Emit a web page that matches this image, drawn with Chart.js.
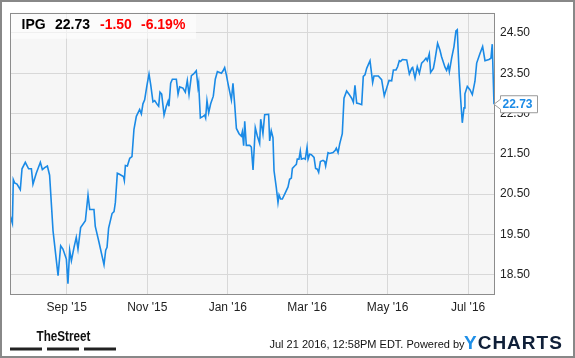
<!DOCTYPE html>
<html>
<head>
<meta charset="utf-8">
<script src="https://cdn.jsdelivr.net/npm/chart.js@4"></script>
<style>
html,body{margin:0;padding:0;background:#fff;}
#wrap{width:575px;height:358px;position:relative;}
</style>
</head>
<body>
<div id="wrap"><canvas id="c" width="575" height="358"></canvas></div>
<script>
// x values: days since Jul 20 2015 (Sep 1 2015 = 43, Jul 21 2016 = 367)
const days = [0,1.8,2.5,3.5,5.3,7.8,9.1,11.6,14.1,16.2,17.4,19.9,23.0,24.5,26.3,28.3,30.0,32.6,36.4,38.4,40.1,42.7,43.9,45.2,46.5,48.5,50.2,51.5,53.5,57.1,59.1,60.4,63.6,64.6,67.2,71.2,72.5,73.5,74.7,77.3,78.8,79.8,81.3,82.6,85.9,86.6,87.4,88.9,
90.7,92.4,93.9,95.7,98.2,99.5,100.7,102.0,103.8,105.3,106.6,108.3,109.6,111.6,112.6,113.6,114.9,116.7,118.4,119.7,120.4,121.7,123.0,126.0,127.3,128.5,131.0,132.8,134.3,135.6,137.4,139.1,141.1,142.4,142.9,144.2,146.2,147.5,148.2,149.2,150.5,152.0,154.0,155.5,157.1,160.1,161.4,162.6,163.9,165.1,167.7,168.9,170.2,171.5,173.5,175.2,176.0,177.0,177.8,179.0,181.6,182.8,
184.1,185.8,187.3,189.1,189.9,191.6,192.9,195.9,196.7,197.9,199.2,200.0,201.7,203.0,203.8,205.0,206.3,208.6,210.6,211.8,213.1,213.9,215.6,216.9,217.6,218.9,219.9,220.7,222.7,223.7,225.0,225.8,227.0,228.3,230.3,231.5,232.8,233.8,235.1,237.1,238.4,239.1,240.9,242.1,244.7,246.4,247.2,248.5,249.7,251.7,
253.0,255.0,256.8,258.8,260.1,261.3,262.6,264.6,266.4,267.6,268.9,270.2,272.7,
274.7,275.7,279.0,281.5,283.5,285.3,287.1,289.1,290.4,292.4,293.6,294.9,295.9,297.2,300.5,302.5,304.3,305.0,306.8,308.5,310.1,311.8,313.6,315.1,316.1,317.6,318.6,320.7,321.9,323.9,325.7,326.9,329.5,330.7,332.0,332.8,334.5,336.3,337.8,338.8,340.3,341.4,342.6,343.9,344.6,346.4,348.4,350.2,352.2,353.5,356.0,358.0,359.8,362.8,364.3,365.3,366.6];

const prices = [19.98,19.78,20.86,20.78,20.75,20.61,21.13,21.29,21.13,21.13,20.75,21.02,21.29,21.11,21.16,21.2,20.97,19.59,18.48,19.22,19.14,18.89,18.28,19.11,18.85,19.18,19.43,19.14,19.67,19.84,20.48,20.12,20.12,19.70,19.34,18.75,19.11,19.18,19.66,20.02,20.07,20.29,21.02,21.0,20.94,20.84,21.21,21.2,
21.39,21.43,22.11,22.43,22.6,22.49,22.74,22.84,23.21,23.48,23.21,22.79,22.82,22.72,22.68,23.03,22.98,22.46,22.68,22.8,22.68,23.25,23.35,23.35,22.98,23.16,23.13,23.03,23.32,22.97,23.44,23.48,23.56,23.15,23.25,22.39,22.43,22.46,22.39,22.82,22.52,22.74,22.93,23.35,23.54,23.5,23.56,23.64,23.46,23.25,22.84,23.25,22.72,22.13,22.0,21.94,22.05,21.7,22.31,21.71,21.71,21.67,
21.1,22.15,21.95,21.76,22.36,22.0,22.47,22.48,21.82,22.07,21.9,21.08,20.67,20.29,20.48,20.38,20.38,20.54,20.68,20.87,20.9,21.14,21.2,21.24,21.37,21.37,21.57,21.37,21.39,21.37,21.66,21.37,21.49,21.48,21.41,21.14,21.12,21.04,21.31,21.34,21.31,21.2,21.53,21.51,21.53,21.59,21.64,21.53,21.74,22.0,
22.88,23.06,22.98,22.88,22.78,23.2,22.76,22.74,22.72,23.42,23.46,23.62,23.81,
23.27,23.43,23.43,23.34,22.94,23.13,23.32,23.31,23.58,23.58,23.66,23.81,23.79,23.84,23.83,23.48,23.62,23.64,23.38,23.66,23.5,23.75,23.81,23.87,23.81,23.98,23.52,23.62,23.83,24.24,24.07,23.91,23.65,23.57,23.7,23.54,23.87,24.16,24.55,24.58,23.42,22.84,22.27,22.64,22.99,23.17,23.09,22.97,23.3,23.75,23.99,24.16,23.81,23.84,23.87,24.22,22.73];

const xTickDays = [43,104,165,225,286,347];
const xTickLabels = ["Sep '15","Nov '15","Jan '16","Mar '16","May '16","Jul '16"];
const yTicks = [18.5,19.5,20.5,21.5,22.5,23.5,24.5];

const ticker = "IPG";
const lastPrice = "22.73";
const change = "-1.50";
const changePct = "-6.19%";
const stamp = "Jul 21 2016, 12:58PM EDT. Powered by";

const FONT = "'Liberation Sans', Arial, Helvetica, sans-serif";
const BLUE = '#1a8ae6';

const deco = {
  id: 'deco',
  beforeDraw(chart) {
    const {ctx, chartArea: a} = chart;
    ctx.save();
    ctx.fillStyle = '#ffffff';
    ctx.fillRect(0, 0, chart.width, chart.height);
    ctx.fillStyle = '#f6f6f6';
    ctx.fillRect(a.left, a.top, a.right - a.left, a.bottom - a.top);
    ctx.restore();
  },
  beforeDatasetsDraw(chart) {
    const {ctx, chartArea: a} = chart;
    ctx.save();
    ctx.fillStyle = 'rgba(255,255,255,0.6)';
    ctx.fillRect(a.left, a.top, 186, 26);
    ctx.font = 'bold 14px ' + FONT;
    ctx.textBaseline = 'alphabetic';
    ctx.fillStyle = '#000';
    ctx.fillText(ticker, 21.5, 28.5);
    ctx.fillText(lastPrice, 55, 28.5);
    ctx.fillStyle = '#ff0000';
    ctx.fillText(change, 100, 28.5);
    ctx.fillText(changePct, 141, 28.5);
    ctx.restore();
  },
  afterDraw(chart) {
    const {ctx, chartArea: a} = chart;
    const ys = chart.scales.y;
    ctx.save();
    // plot border
    ctx.strokeStyle = '#8c8c8c';
    ctx.lineWidth = 1;
    ctx.strokeRect(Math.round(a.left) + 0.5, Math.round(a.top) + 0.5, Math.round(a.right - a.left) - 1, Math.round(a.bottom - a.top) - 1);

    // last value flag
    const last = prices[prices.length - 1];
    const yv = ys.getPixelForValue(last);
    const bx = 500, bw = 37, bh = 17;
    ctx.beginPath();
    ctx.moveTo(a.right - 0.5, yv);
    ctx.lineTo(bx + 0.5, yv - 5);
    ctx.lineTo(bx + 0.5, yv - bh / 2);
    ctx.lineTo(bx + bw + 0.5, yv - bh / 2);
    ctx.lineTo(bx + bw + 0.5, yv + bh / 2);
    ctx.lineTo(bx + 0.5, yv + bh / 2);
    ctx.lineTo(bx + 0.5, yv + 5);
    ctx.closePath();
    ctx.fillStyle = '#ffffff';
    ctx.fill();
    ctx.strokeStyle = '#9a9a9a';
    ctx.stroke();
    ctx.fillStyle = BLUE;
    ctx.font = 'bold 12px ' + FONT;
    ctx.textBaseline = 'middle';
    ctx.fillText(last.toFixed(2), 502.5, yv + 0.5);

    // footer: TheStreet
    ctx.textBaseline = 'alphabetic';
    ctx.fillStyle = '#111';
    ctx.save();
    ctx.translate(36.5, 341);
    ctx.scale(0.78, 1);
    ctx.font = 'bold 15px ' + FONT;
    ctx.fillText('TheStreet', 0, 0);
    ctx.restore();
    ctx.fillStyle = '#222';
    ctx.fillRect(10, 347.5, 32, 3);
    ctx.fillRect(47, 347.5, 32, 3);
    ctx.fillRect(84, 347.5, 32, 3);

    // footer: stamp
    ctx.fillStyle = '#111';
    ctx.font = '11px ' + FONT;
    ctx.fillText(stamp, 269.5, 348);
    // YCHARTS
    ctx.font = 'bold 19px ' + FONT;
    if ('letterSpacing' in ctx) ctx.letterSpacing = '1px';
    ctx.fillStyle = '#1e8fe8';
    ctx.fillText('Y', 464, 348.5);
    const yw = ctx.measureText('Y').width;
    ctx.fillStyle = '#0f1f38';
    ctx.fillText('CHARTS', 464 + yw, 348.5);
    if ('letterSpacing' in ctx) ctx.letterSpacing = '0px';

    // outer border
    ctx.strokeStyle = '#888';
    ctx.lineWidth = 2;
    ctx.strokeRect(1, 1, chart.width - 2, chart.height - 2);
    ctx.restore();
  }
};

new Chart(document.getElementById('c'), {
  type: 'line',
  data: {
    datasets: [{
      data: days.map((d, i) => ({x: d, y: prices[i]})),
      borderColor: BLUE,
      borderWidth: 1.6,
      pointRadius: 0,
      tension: 0,
      fill: false
    }]
  },
  options: {
    responsive: false,
    animation: false,
    events: [],
    layout: {padding: {left: 10, top: 10.5, right: 0, bottom: 0}},
    plugins: {legend: {display: false}, tooltip: {enabled: false}},
    scales: {
      x: {
        type: 'linear',
        min: 0,
        max: 367,
        afterBuildTicks(s) { s.ticks = xTickDays.map(v => ({value: v})); },
        afterFit(s) { s.height = 63; },
        grid: {color: '#d8d8d8', drawTicks: false, lineWidth: 1},
        border: {display: false},
        ticks: {
          autoSkip: false,
          maxRotation: 0,
          padding: 5,
          color: '#222',
          font: {family: FONT, size: 12},
          callback(v) { const i = xTickDays.indexOf(v); return i >= 0 ? xTickLabels[i] : ''; }
        }
      },
      y: {
        position: 'right',
        min: 18,
        max: 25,
        afterBuildTicks(s) { s.ticks = yTicks.map(v => ({value: v})); },
        afterFit(s) { s.width = 80.5; },
        grid: {color: '#d8d8d8', drawTicks: false, lineWidth: 1},
        border: {display: false},
        ticks: {
          padding: 5.5,
          color: '#222',
          font: {family: FONT, size: 12},
          callback(v) { return Number(v).toFixed(2); }
        }
      }
    }
  },
  plugins: [deco]
});
</script>
</body>
</html>
